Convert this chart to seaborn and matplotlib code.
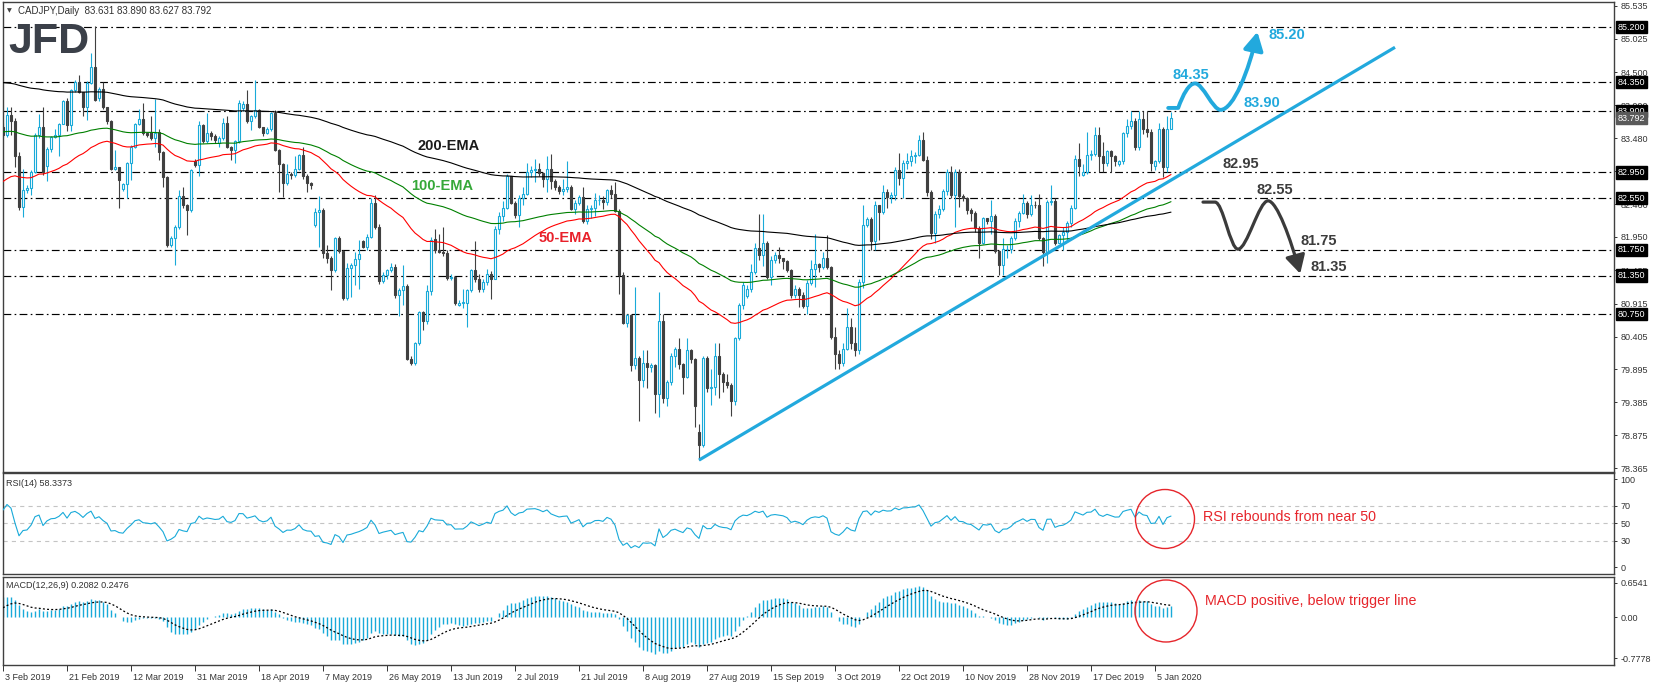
import numpy as np
import pandas as pd
import matplotlib
matplotlib.use("Agg")
import matplotlib.pyplot as plt
import matplotlib.transforms as mtransforms
from matplotlib.path import Path
from matplotlib.patches import FancyArrowPatch, Ellipse
import seaborn as sns

sns.set_theme(style="white")
plt.rcParams["font.family"] = ["Liberation Sans", "DejaVu Sans"]
plt.rcParams["lines.scale_dashes"] = False

# ---------------- data (daily CADJPY bars) ----------------
opens = [83.66,83.53,83.84,83.74,83.21,82.42,82.68,82.71,82.96,83.53,83.66,83.05,83.32,83.50,83.53,83.70,84.05,83.69,84.23,84.35,
         84.20,83.96,84.33,84.58,84.10,84.24,83.96,83.74,83.01,83.04,82.70,82.77,83.09,83.35,83.70,83.78,83.56,83.58,83.48,83.57,
         83.27,82.88,81.82,81.93,82.10,82.59,82.45,82.37,83.12,83.07,83.68,83.43,83.56,83.51,83.40,83.48,83.71,83.35,83.30,83.43,
         83.95,84.01,83.74,83.82,83.92,83.66,83.56,83.62,83.87,83.30,83.08,82.78,82.92,82.91,83.00,83.22,82.89,82.78,82.14,82.34,
         82.37,81.70,81.62,81.43,81.93,81.73,81.00,81.47,81.52,81.61,81.88,81.80,81.95,82.47,82.11,81.26,81.36,81.43,81.49,81.05,
         81.13,81.19,80.06,79.99,80.30,80.78,80.65,81.11,81.92,81.75,81.72,81.70,81.31,81.33,80.90,80.93,80.93,81.12,81.43,81.30,
         81.15,81.25,81.38,81.30,82.07,82.28,82.40,82.89,82.48,82.29,82.55,82.62,82.95,82.98,83.00,82.94,82.85,83.00,82.81,82.73,
         82.66,82.70,82.72,82.39,82.47,82.57,82.20,82.38,82.40,82.52,82.53,82.49,82.68,82.61,82.35,81.36,80.62,80.74,79.96,80.08,
         79.73,79.99,79.94,79.96,79.52,80.64,79.45,79.70,80.11,80.22,79.98,79.78,80.20,80.05,78.93,78.73,80.07,79.60,79.62,80.11,
         79.82,79.70,79.65,79.41,80.39,80.89,81.03,81.15,81.40,81.78,81.67,81.86,81.33,81.60,81.67,81.62,81.57,81.43,81.05,81.15,
         81.05,80.88,81.24,81.45,81.53,81.49,81.63,81.49,80.40,80.14,80.00,80.22,80.55,80.30,80.20,81.25,82.14,82.23,81.88,82.45,
         82.33,82.64,82.57,82.60,82.98,82.86,83.10,83.12,83.20,83.22,83.46,83.15,82.65,82.01,82.31,82.38,82.66,82.96,82.60,82.96,
         82.58,82.55,82.37,82.32,82.09,81.85,82.24,82.20,82.27,81.73,81.52,81.76,81.77,81.93,82.20,82.32,82.47,82.31,82.45,82.44,
         81.93,81.72,82.49,82.50,81.86,81.98,82.02,82.17,82.40,83.16,82.91,82.95,83.22,83.24,83.53,83.20,83.10,83.28,83.20,83.08,
         83.13,83.56,83.67,83.75,83.35,83.78,83.62,83.58,83.05,83.12,83.62,83.04,83.631]
highs = [83.72,83.96,83.96,83.80,83.26,83.00,82.76,82.99,83.56,83.86,83.96,83.35,83.52,83.62,83.72,84.07,84.10,84.25,84.38,84.46,
         84.20,84.36,84.80,85.22,84.28,84.35,83.97,83.76,83.29,83.04,82.79,83.11,83.38,83.72,83.93,84.02,83.58,83.83,84.09,83.62,
         83.28,82.90,81.96,82.13,82.68,82.72,82.46,83.01,83.16,83.74,83.70,83.87,83.60,83.55,83.52,83.80,83.83,83.36,83.45,84.08,
         84.05,84.23,83.84,84.39,83.94,83.66,83.66,83.89,83.92,83.32,83.10,83.08,82.95,83.20,83.24,83.35,82.92,82.80,82.40,82.58,
         82.40,81.83,81.65,81.95,81.96,81.75,81.55,81.55,81.72,81.90,81.90,82.00,82.55,82.60,82.15,81.40,81.45,81.55,81.53,81.16,
         81.52,81.22,80.10,80.32,80.80,80.80,81.20,81.95,82.08,82.00,82.10,81.74,81.38,81.35,80.97,81.15,81.15,81.45,81.88,81.38,
         81.30,81.45,81.42,82.12,82.33,82.50,82.92,82.90,82.50,82.60,82.72,83.09,83.05,83.16,83.10,82.96,83.21,83.23,82.85,82.76,
         82.85,83.13,82.75,82.52,82.60,82.72,82.45,82.45,82.63,82.60,82.58,82.70,82.75,82.80,82.38,81.40,80.76,80.76,81.18,80.10,
         80.20,80.20,80.00,79.98,81.10,80.75,79.73,80.15,80.25,80.38,80.00,80.39,80.22,80.07,79.05,80.10,80.10,79.90,80.30,80.30,
         79.85,79.82,79.68,80.40,80.93,81.25,81.20,81.53,81.85,82.30,82.30,81.88,81.65,81.72,81.80,81.62,81.60,81.45,81.20,81.18,
         81.10,81.28,81.60,82.00,81.55,81.72,81.98,81.50,80.56,80.20,80.30,80.85,80.70,80.55,81.30,82.45,82.26,82.26,82.50,82.45,
         82.76,82.70,82.65,83.03,83.25,83.15,83.25,83.30,83.26,83.53,83.58,83.20,82.68,82.35,82.45,82.70,83.00,83.05,83.00,83.00,
         82.62,82.57,82.40,82.35,82.12,82.26,82.25,82.52,82.30,81.75,81.93,81.82,81.96,82.24,82.35,82.62,82.51,82.60,82.50,82.62,
         81.95,82.52,82.75,82.55,82.00,82.10,82.20,82.45,83.22,83.40,83.08,83.58,83.30,83.65,83.65,83.42,83.30,83.30,83.22,83.15,
         83.58,83.78,83.90,83.80,83.90,83.90,83.90,83.62,83.15,83.72,83.66,83.82,83.890]
lows = [83.50,83.50,83.53,83.04,82.37,82.26,82.63,82.60,82.94,83.49,82.91,82.81,83.27,83.49,83.20,83.70,83.59,83.59,84.20,84.18,
        83.82,83.76,84.32,84.05,84.05,83.94,83.70,82.99,82.98,82.40,82.66,82.55,82.83,83.33,83.69,83.53,83.50,83.46,83.35,83.14,
        82.73,81.80,81.80,81.51,82.08,82.40,81.98,82.34,83.04,82.89,83.40,83.40,83.46,83.40,83.35,83.45,83.33,83.14,83.09,83.40,
        83.90,83.72,83.61,83.80,83.64,83.52,83.54,83.60,83.28,82.65,82.57,82.75,82.85,82.88,82.98,82.85,82.65,82.70,82.10,81.80,
        81.62,81.55,81.13,81.40,81.70,80.97,80.97,81.02,81.20,81.15,81.78,81.75,81.93,82.08,81.22,81.23,81.30,81.40,81.00,80.72,
        80.90,80.04,79.97,79.97,80.28,80.50,80.60,81.05,81.70,81.70,81.65,81.28,81.28,80.90,80.88,80.85,80.55,81.10,81.25,81.10,
        81.10,81.20,80.98,81.30,82.00,82.20,82.38,82.46,82.24,82.10,82.45,82.60,82.88,82.80,82.90,82.72,82.65,82.70,82.68,82.62,
        82.60,82.65,82.37,82.30,82.45,82.17,82.15,82.25,82.28,82.45,82.38,82.45,82.55,82.33,81.07,80.60,80.55,79.87,79.90,79.09,
        79.63,79.60,79.85,79.22,79.16,79.37,79.33,79.65,79.94,79.90,79.52,79.76,80.00,79.00,78.49,78.70,79.55,79.35,79.50,79.45,
        79.55,79.60,79.17,79.35,80.35,80.84,81.00,81.10,81.38,81.60,81.50,81.30,81.20,81.55,81.55,81.45,81.40,81.00,81.00,80.87,
        80.85,80.75,81.20,81.18,81.40,81.45,81.45,80.37,79.90,79.90,79.95,80.20,80.22,80.10,80.13,81.16,82.10,81.75,81.75,81.90,
        82.30,82.40,82.48,82.52,82.75,82.56,83.00,83.05,83.10,83.20,83.12,82.59,81.92,81.85,82.25,82.35,82.60,82.55,82.10,82.42,
        82.50,82.30,82.20,82.02,81.62,81.84,82.15,82.00,81.70,81.36,81.36,81.63,81.70,81.90,82.10,82.30,82.25,82.28,82.40,81.90,
        81.50,81.55,82.45,81.82,81.85,81.75,81.90,82.10,82.38,82.90,82.90,82.93,83.15,83.20,82.95,82.95,83.05,82.95,83.05,83.05,
        83.08,83.50,83.62,83.30,83.30,83.55,83.50,82.97,82.98,83.10,82.88,82.95,83.627]
closes = [83.53,83.84,83.74,83.21,82.42,82.68,82.71,82.96,83.53,83.66,82.96,83.32,83.50,83.53,83.70,84.05,83.69,84.23,84.35,84.20,
          83.96,84.33,84.58,84.08,84.24,83.96,83.74,83.01,83.04,82.83,82.77,83.09,83.35,83.70,83.78,83.56,83.53,83.48,83.56,83.27,
          82.88,81.82,81.93,82.10,82.59,82.45,82.37,82.99,83.07,83.68,83.43,83.56,83.51,83.45,83.48,83.71,83.35,83.30,83.43,84.02,
          84.01,83.74,83.82,83.92,83.66,83.56,83.62,83.87,83.30,83.08,82.78,82.92,82.91,83.00,83.22,82.89,82.78,82.76,82.34,82.37,
          81.70,81.62,81.43,81.93,81.73,81.00,81.47,81.52,81.61,81.69,81.80,81.95,82.47,82.11,81.26,81.36,81.43,81.49,81.05,81.13,
          81.19,80.06,79.99,80.30,80.78,80.65,81.11,81.90,81.75,81.72,81.70,81.31,81.33,80.92,80.93,80.93,81.12,81.43,81.30,81.15,
          81.25,81.38,81.30,82.07,82.28,82.40,82.89,82.48,82.29,82.55,82.62,82.95,82.98,83.00,82.94,82.85,83.00,82.81,82.73,82.66,
          82.70,82.72,82.39,82.47,82.57,82.20,82.38,82.40,82.52,82.53,82.49,82.68,82.61,82.35,81.36,80.62,80.74,79.96,80.08,79.73,
          79.99,79.94,79.96,79.52,80.64,79.45,79.70,80.11,80.22,79.98,79.78,80.20,80.05,79.33,78.73,80.07,79.60,79.62,80.11,79.82,
          79.70,79.65,79.41,80.39,80.89,81.20,81.15,81.40,81.78,81.67,81.86,81.33,81.60,81.67,81.62,81.57,81.43,81.05,81.15,81.05,
          80.88,81.24,81.45,81.53,81.49,81.63,81.49,80.40,80.14,80.00,80.22,80.55,80.30,80.20,81.25,82.14,82.23,81.88,82.45,82.33,
          82.64,82.57,82.60,82.98,82.86,83.10,83.12,83.20,83.22,83.46,83.15,82.65,82.01,82.31,82.38,82.66,82.96,82.60,82.96,82.58,
          82.55,82.37,82.32,82.09,81.85,82.24,82.20,82.27,81.73,81.52,81.76,81.77,81.93,82.20,82.32,82.47,82.31,82.45,82.44,81.93,
          81.72,82.49,82.50,81.86,81.98,82.02,82.17,82.40,83.16,83.05,82.95,83.22,83.24,83.53,83.20,83.10,83.28,83.20,83.12,83.13,
          83.56,83.67,83.75,83.35,83.78,83.62,83.58,83.09,83.12,83.62,83.04,83.63,83.792]

date_labels = ["3 Feb 2019", "21 Feb 2019", "12 Mar 2019", "31 Mar 2019", "18 Apr 2019", "7 May 2019",
               "26 May 2019", "13 Jun 2019", "2 Jul 2019", "21 Jul 2019", "8 Aug 2019", "27 Aug 2019",
               "15 Sep 2019", "3 Oct 2019", "22 Oct 2019", "10 Nov 2019", "28 Nov 2019", "17 Dec 2019", "5 Jan 2020"]
date_bars = list(range(0, 16 * len(date_labels), 16))

levels = [85.20, 84.35, 83.90, 82.95, 82.55, 81.75, 81.35, 80.75]
price_ticks = [85.535, 85.025, 84.500, 83.990, 83.480, 82.970, 82.460, 81.950, 81.435,
               80.915, 80.405, 79.895, 79.385, 78.875, 78.365]
rsi_ticks = [0, 30, 50, 70, 100]
macd_ticks = [-0.7778, 0.0, 0.6541]
macd_tick_labels = ["-0.7778", "0.00", "0.6541"]

# indicator starting values read at the first bar
ema_seeds = {50: 82.78, 100: 83.58, 200: 84.35}
macd_seeds = {"ema12": 83.35, "ema26": 82.95, "signal": 0.13}
rsi_seeds = {"gain": 0.070, "loss": 0.038}

trend_bars = [174, 348]
trend_prices = [78.49, 84.89]

# ---------------- derived indicators ----------------
df = pd.DataFrame({"bar": np.arange(len(closes)), "open": opens, "high": highs,
                   "low": lows, "close": closes})


def ema_seeded(series, span, seed):
    s = pd.concat([pd.Series([seed]), pd.Series(series)], ignore_index=True)
    return s.ewm(span=span, adjust=False).mean().iloc[1:].reset_index(drop=True)


for span, seed in ema_seeds.items():
    df[f"ema{span}"] = ema_seeded(df["close"], span, seed).values

delta = df["close"].diff()
gain = delta.clip(lower=0)
loss = (-delta).clip(lower=0)
gain.iloc[0] = rsi_seeds["gain"]
loss.iloc[0] = rsi_seeds["loss"]
ag = gain.ewm(alpha=1 / 14, adjust=False).mean()
al = loss.ewm(alpha=1 / 14, adjust=False).mean()
df["rsi"] = 100 - 100 / (1 + ag / al)

df["macd"] = (ema_seeded(df["close"], 12, macd_seeds["ema12"]) -
              ema_seeded(df["close"], 26, macd_seeds["ema26"])).values
df["signal"] = ema_seeded(df["macd"], 9, macd_seeds["signal"]).values

# ---------------- figure / layout ----------------
W, H = 1655, 686
fig = plt.figure(figsize=(W / 100, H / 100), dpi=100)
fig.patch.set_facecolor("white")

AX_L, AX_R = 2.7, 1614.0


def px_axes(top, bottom):
    return fig.add_axes([AX_L / W, 1 - bottom / H, (AX_R - AX_L) / W, (bottom - top) / H])


ax = px_axes(1.7, 471.7)
ax_rsi = px_axes(473.3, 574.3)
ax_macd = px_axes(576.7, 665.0)

XMIN = -0.075
XMAX = XMIN + (AX_R - AX_L) / 4.0

CYAN = "#19AAD9"
DARK = "#404040"
TREND = "#22A9DD"
RED = "#E6252B"
TXT = "#333333"

# candles
up = df["close"] >= df["open"]
ax.vlines(df["bar"], df["low"], df["high"], colors=np.where(up, CYAN, DARK), lw=0.8, zorder=3)
bottom = np.minimum(df["open"], df["close"])
height = np.maximum((df["close"] - df["open"]).abs(), 0.008)
ax.bar(df["bar"][up], height[up], bottom=bottom[up], width=0.55, facecolor="white",
       edgecolor=CYAN, linewidth=0.8, zorder=4)
ax.bar(df["bar"][~up], height[~up], bottom=bottom[~up], width=0.55, facecolor=DARK,
       edgecolor=DARK, linewidth=0.8, zorder=4)

# EMAs
sns.lineplot(data=df, x="bar", y="ema50", ax=ax, color="#FF0000", lw=0.8, zorder=5)
sns.lineplot(data=df, x="bar", y="ema100", ax=ax, color="#008000", lw=0.8, zorder=5)
sns.lineplot(data=df, x="bar", y="ema200", ax=ax, color="#000000", lw=0.8, zorder=5)

# horizontal levels
for lv in levels:
    ax.axhline(lv, color="black", lw=0.85, ls=(0, (5.6, 2.4, 1.2, 2.4)), zorder=2)

# trend line
ax.plot(trend_bars, trend_prices, color=TREND, lw=2.3, zorder=6, solid_capstyle="butt")

ax.set_xlim(XMIN, XMAX)
ax.set_ylim(78.310, 85.597)
ax.set_xlabel("")
ax.set_ylabel("")

# EMA labels
lab_kw = dict(fontsize=10.5, fontweight="bold", ha="center", va="center", zorder=8)
ax.text(111.5, 83.36, "200-EMA", color="#1A1A1A", **lab_kw)
ax.text(109.75, 82.74, "100-EMA", color="#35A838", **lab_kw)
ax.text(140.6, 81.93, "50-EMA", color="#E8202A", **lab_kw)

# scenario paths
M, L, C = Path.MOVETO, Path.LINETO, Path.CURVE4
up_verts = [(291.3, 83.95), (293.8, 83.95),
            (295.0, 84.16), (296.5, 84.33), (298.0, 84.33),
            (300.0, 84.33), (302.4, 83.92), (304.4, 83.92),
            (307.6, 83.92), (311.6, 84.55), (313.6, 85.13)]
up_codes = [M, L, C, C, C, C, C, C, C, C, C]
ax.add_patch(FancyArrowPatch(path=Path(up_verts, up_codes), transform=ax.transData,
                             arrowstyle="-|>,head_length=0.55,head_width=0.3",
                             mutation_scale=20, lw=2.8, color=TREND, zorder=7))
dn_verts = [(300.0, 82.49), (303.0, 82.49),
            (305.0, 82.49), (306.8, 81.76), (308.75, 81.76),
            (311.0, 81.76), (314.0, 82.51), (316.25, 82.51),
            (318.5, 82.51), (322.0, 81.90), (324.3, 81.38)]
dn_codes = [M, L, C, C, C, C, C, C, C, C, C]
ax.add_patch(FancyArrowPatch(path=Path(dn_verts, dn_codes), transform=ax.transData,
                             arrowstyle="-|>,head_length=0.55,head_width=0.3",
                             mutation_scale=20, lw=2.3, color="#3B3B3B", zorder=7))

num_kw = dict(fontsize=10.5, fontweight="bold", ha="center", va="center", zorder=8)
ax.text(297.0, 84.46, "84.35", color=TREND, **num_kw)
ax.text(314.75, 84.03, "83.90", color=TREND, **num_kw)
ax.text(321.0, 85.08, "85.20", color=TREND, **num_kw)
ax.text(309.4, 83.08, "82.95", color="#3C3C3C", **num_kw)
ax.text(317.9, 82.67, "82.55", color="#3C3C3C", **num_kw)
ax.text(328.9, 81.89, "81.75", color="#3C3C3C", **num_kw)
ax.text(331.4, 81.48, "81.35", color="#3C3C3C", **num_kw)

# RSI panel
for lv in (30, 50, 70):
    ax_rsi.axhline(lv, color="#C4C4C4", lw=0.8, ls=(0, (3, 3)), zorder=1)
sns.lineplot(data=df, x="bar", y="rsi", ax=ax_rsi, color=CYAN, lw=0.8, zorder=3)
ax_rsi.set_xlim(XMIN, XMAX)
ax_rsi.set_ylim(-8.1, 106.6)
ax_rsi.set_yticks(rsi_ticks)
ax_rsi.set_yticklabels([str(t) for t in rsi_ticks])
ax_rsi.set_xlabel("")
ax_rsi.set_ylabel("")

# MACD panel
ax_macd.vlines(df["bar"], 0, df["macd"], colors=CYAN, lw=1.0, zorder=2)
sns.lineplot(data=df, x="bar", y="signal", ax=ax_macd, color="black", lw=0.9,
             ls=(0, (1.4, 1.6)), zorder=3)
ax_macd.set_xlim(XMIN, XMAX)
ax_macd.set_ylim(-0.911, 0.774)
ax_macd.set_yticks(macd_ticks)
ax_macd.set_yticklabels(macd_tick_labels)
ax_macd.set_xlabel("")
ax_macd.set_ylabel("")

# axes styling
for a in (ax, ax_rsi, ax_macd):
    a.set_facecolor("white")
    a.grid(False)
    a.yaxis.tick_right()
    a.tick_params(axis="y", which="both", direction="out", length=2.5, width=0.7, pad=2.0,
                  labelsize=6.5, colors=TXT, right=True, left=False, labelright=True, labelleft=False)
    a.tick_params(axis="x", bottom=False, labelbottom=False, top=False)
    for s in a.spines.values():
        s.set_color("#404040")
        s.set_linewidth(1.0)
ax.set_yticks(price_ticks)
ax.set_yticklabels([f"{t:.3f}" for t in price_ticks])

ax_macd.set_xticks(date_bars)
ax_macd.set_xticklabels(date_labels, ha="left")
ax_macd.tick_params(axis="x", bottom=True, labelbottom=True, length=4, width=0.7,
                    direction="out", pad=1.5, labelsize=6.5, colors=TXT)
offset = mtransforms.ScaledTranslation(1.5 / 72, 0, fig.dpi_scale_trans)
for lab in ax_macd.get_xticklabels():
    lab.set_transform(lab.get_transform() + offset)

# boxed price labels at the right axis
blend = mtransforms.blended_transform_factory(fig.transFigure, ax.transData)
for lv in levels:
    fig.text(1617.5 / W, lv, f"{lv:.3f}", transform=blend, color="white", fontsize=6.5,
             ha="left", va="center", zorder=20,
             bbox=dict(boxstyle="square,pad=0.18", fc="black", ec="black"))
fig.text(1617.5 / W, closes[-1], f"{closes[-1]:.3f}", transform=blend, color="white",
         fontsize=6.5, ha="left", va="center", zorder=21,
         bbox=dict(boxstyle="square,pad=0.18", fc="#5A5A5A", ec="#5A5A5A"))

# header, logo and panel captions
fig.text(7 / W, 1 - 10.7 / H, "\u25bc", fontsize=4.5, color="#404040", va="center",
         family=["DejaVu Sans"])
fig.text(18 / W, 1 - 10.7 / H,
         f"CADJPY,Daily  {opens[-1]:.3f} {highs[-1]:.3f} {lows[-1]:.3f} {closes[-1]:.3f}",
         fontsize=7, color="#303030", va="center")
fig.text(8 / W, 1 - 53 / H, "JFD", fontsize=31, fontweight="bold", color="#3B4049",
         va="baseline", ha="left")
fig.text(6 / W, 1 - 483 / H, "RSI(14) 58.3373", fontsize=6.5, color="#303030", va="center")
fig.text(6 / W, 1 - 586 / H, "MACD(12,26,9) 0.2082 0.2476", fontsize=6.5, color="#303030",
         va="center")

# red call-out circles and comments
fig.add_artist(Ellipse((1165 / W, 1 - 519 / H), 59 / W, 59 / H, transform=fig.transFigure,
                       fill=False, ec=RED, lw=1.0))
fig.add_artist(Ellipse((1166 / W, 1 - 611 / H), 62 / W, 62 / H, transform=fig.transFigure,
                       fill=False, ec=RED, lw=1.0))
fig.text(1203 / W, 1 - 517 / H, "RSI rebounds from near 50", color=RED, fontsize=10.3,
         va="center")
fig.text(1205 / W, 1 - 601 / H, "MACD positive, below trigger line", color=RED,
         fontsize=10.3, va="center")

fig.savefig("out.png", dpi=100, facecolor="white")
